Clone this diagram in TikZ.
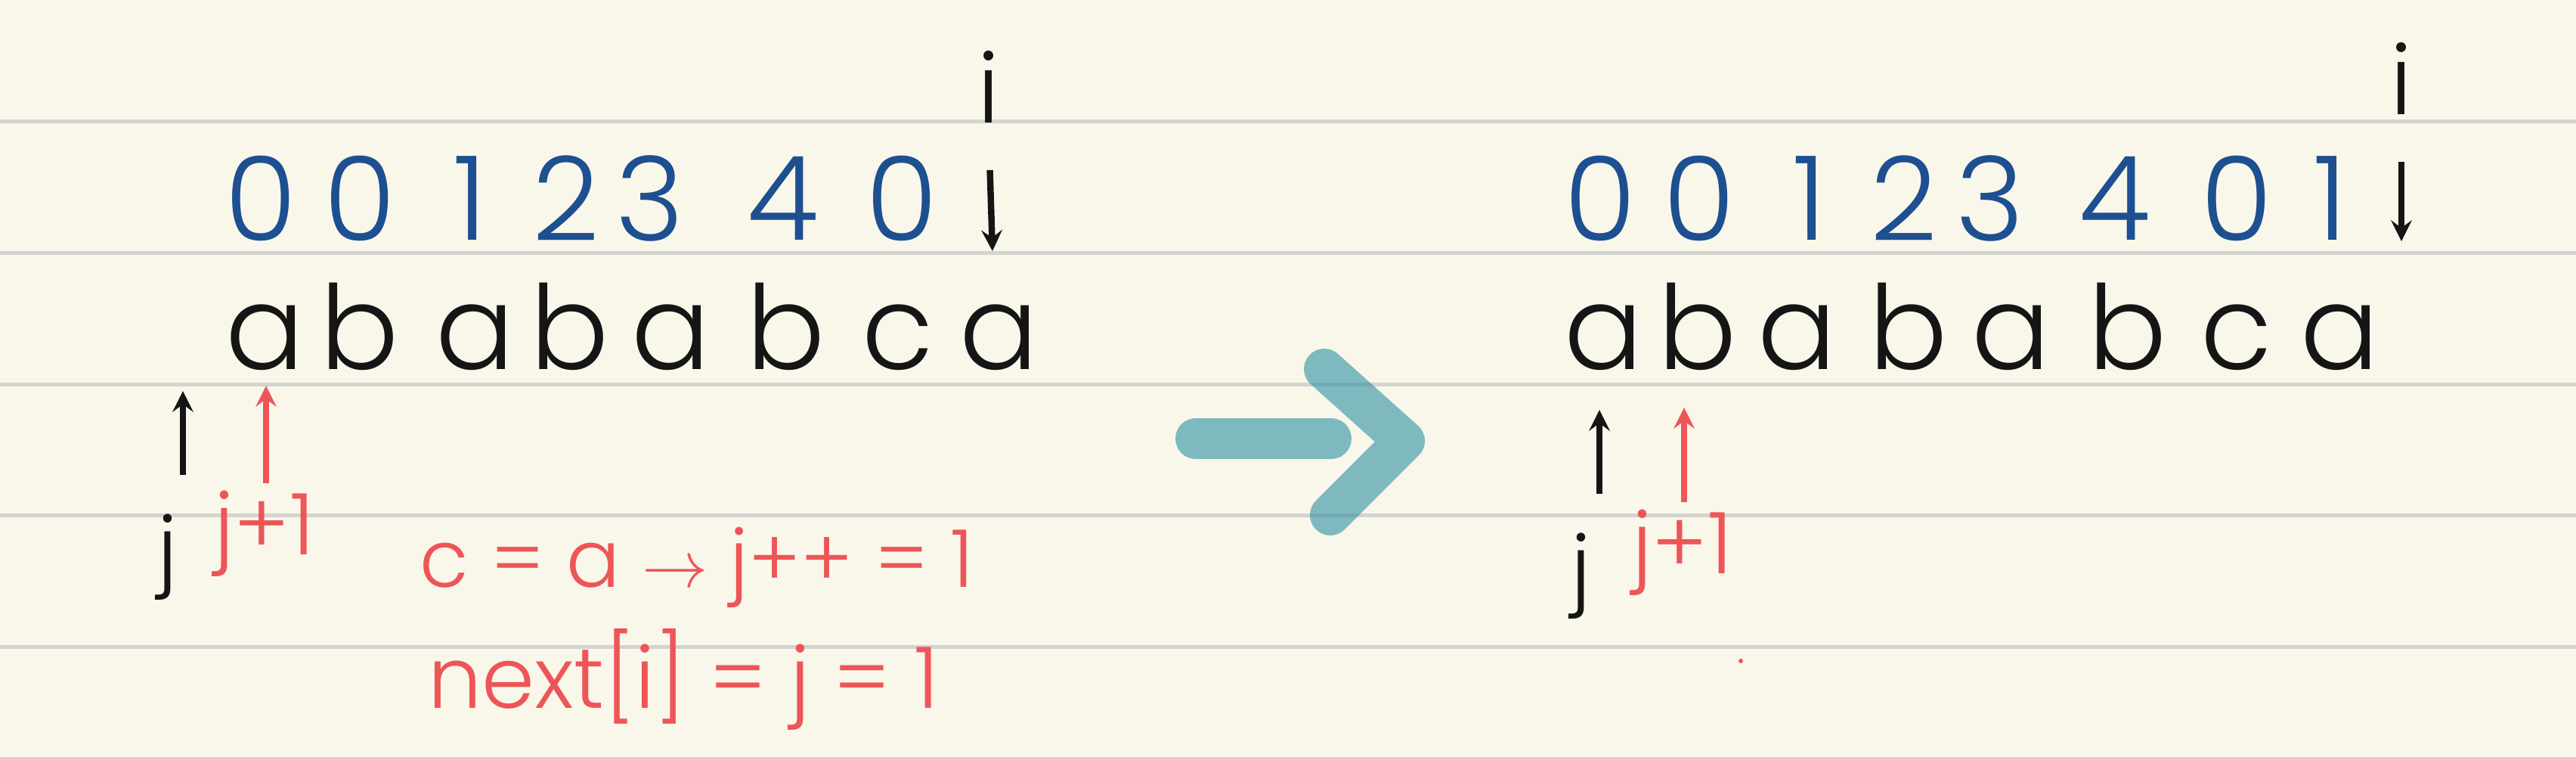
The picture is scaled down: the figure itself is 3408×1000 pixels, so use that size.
\documentclass[tikz,border=0pt]{standalone}
\usepackage{fontspec}
\setmainfont{Poppins}[UprightFont=* Light]
\usepackage{tikz}
\usetikzlibrary{arrows, positioning}
\definecolor{paper}{HTML}{F9F7EA}
\definecolor{ruling}{HTML}{D3D3CF}
\definecolor{ink}{HTML}{151515}
\definecolor{nextblue}{HTML}{1D4F91}
\definecolor{pen}{HTML}{EE5558}
\definecolor{marker}{RGB}{46,145,165}

\begin{document}
\begin{tikzpicture}[
			x=0.1mm, y=-0.1mm,
			letter/.style={font=\fontsize{44}{48}\selectfont, text=ink, anchor=base, inner sep=0pt},
			digit/.style={font=\fontsize{44}{48}\selectfont, text=nextblue, inner sep=0pt},
			note/.style={font=\fontsize{30}{34}\selectfont, text=pen, inner sep=0pt},
			pointer/.style={->, >=stealth, line width=2.4pt, draw=ink},
			redpointer/.style={pointer, draw=pen},
			bigarrow/.style={line width=5.4mm, line cap=round, line join=round, draw=marker, draw opacity=0.6}
		]
		% paper and ruled lines
		\fill[paper] (0,0) rectangle (3408,1000);
		\useasboundingbox (0,0) rectangle (3408,1000);
		\foreach \y in {160,334,508,681,855}
			\draw[ruling, line width=0.5mm] (0,\y) -- (3408,\y);

		% left: next values before i moves
		\node[digit] (d1) at (345,262) {0};
		\node[digit] (d2) at (476,262) {0};
		\node[digit] (d3) at (622,262) {1};
		\node[digit] (d4) at (749,262) {2};
		\node[digit] (d5) at (860,262) {3};
		\node[digit] (d6) at (1036,262) {4};
		\node[digit] (d7) at (1193,262) {0};

		\node[letter] (l1) at (351,488) {a};
		\node[letter] (l2) at (476,488) {b};
		\node[letter] (l3) at (629,488) {a};
		\node[letter] (l4) at (754,488) {b};
		\node[letter] (l5) at (888,488) {a};
		\node[letter] (l6) at (1040,488) {b};
		\node[letter] (l7) at (1188,488) {c};
		\node[letter] (l8) at (1322,488) {a};

		\node[font=\fontsize{36}{40}\selectfont, text=ink] (i1) at (1308,115) {i};
		\coordinate (iend1) at (1313,332);
		\draw[pointer, shorten <=5mm] (i1.south) -- (iend1);

		\node[font=\fontsize{32}{36}\selectfont, text=ink] (j1) at (222,737) {j};
		\coordinate (jtip1) at (242,517);
		\draw[pointer, shorten <=4mm] (j1.north -| jtip1) -- (jtip1);

		\node[note, font=\fontsize{32}{36}\selectfont] (p1) at (350,706) {j+1};
		\coordinate (ptip1) at (352,510);
		\draw[redpointer, shorten <=1mm] (p1.north -| ptip1) -- (ptip1);

		\node[note] (rule1) at (922,750) {c = a $\rightarrow$ j++ = 1};
		\node[note, font=\fontsize{32}{36}\selectfont] (rule2) at (904,898) {next[i] = j = 1};

		% middle arrow
		\draw[bigarrow] (1582,580) -- (1761,580);
		\draw[bigarrow] (1752,488) -- (1858,583) -- (1760,681);

		% right: after next[i] is set
		\node[digit] (rd1) at (2117,262) {0};
		\node[digit] (rd2) at (2248,262) {0};
		\node[digit] (rd3) at (2394,262) {1};
		\node[digit] (rd4) at (2519,262) {2};
		\node[digit] (rd5) at (2633,262) {3};
		\node[digit] (rd6) at (2798,262) {4};
		\node[digit] (rd7) at (2959,262) {0};
		\node[digit] (rd8) at (3083,262) {1};

		\node[letter] (rl1) at (2122,488) {a};
		\node[letter] (rl2) at (2246,488) {b};
		\node[letter] (rl3) at (2378,488) {a};
		\node[letter] (rl4) at (2525,488) {b};
		\node[letter] (rl5) at (2661,488) {a};
		\node[letter] (rl6) at (2815,488) {b};
		\node[letter] (rl7) at (2959,488) {c};
		\node[letter] (rl8) at (3096,488) {a};

		\node[font=\fontsize{36}{40}\selectfont, text=ink] (i2) at (3177,104) {i};
		\coordinate (iend2) at (3177,319);
		\draw[pointer, shorten <=5mm] (i2.south) -- (iend2);

		\node[font=\fontsize{32}{36}\selectfont, text=ink] (j2) at (2092,762) {j};
		\coordinate (jtip2) at (2116,542);
		\draw[pointer, shorten <=4mm] (j2.north -| jtip2) -- (jtip2);

		\node[note, font=\fontsize{32}{36}\selectfont] (p2) at (2226,731) {j+1};
		\coordinate (ptip2) at (2228,539);
		\draw[redpointer, shorten <=1mm] (p2.north -| ptip2) -- (ptip2);

		\fill[pen] (2303,874) circle (3);
	\end{tikzpicture}
\end{document}
